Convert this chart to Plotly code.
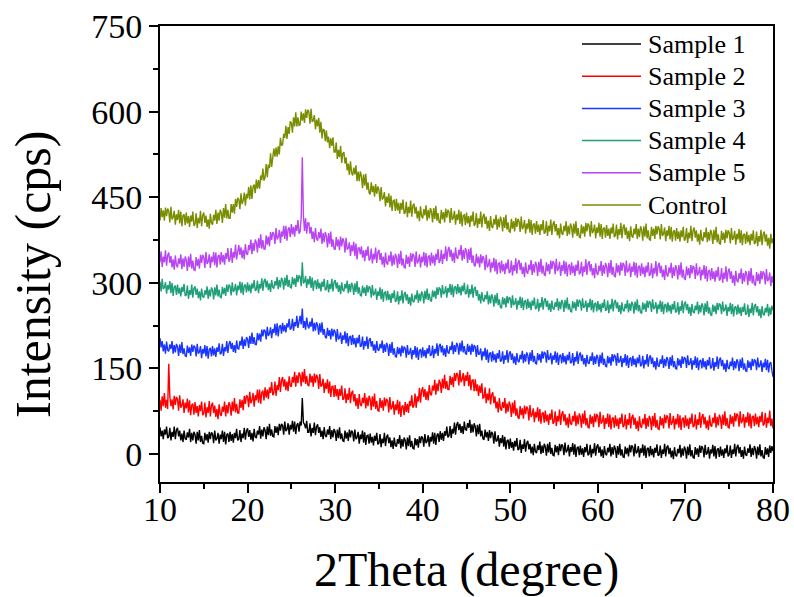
import plotly.graph_objects as go

# Diffraction angle grid (degrees 2-theta), 0.125 degree step from 10 to 80
two_theta = [10 + 0.125 * i for i in range(561)]

sample_1 = [
    47, 31, 41, 26, 43, 34, 48, 28, 30, 46, 24, 39, 30, 48, 26, 42,
    46, 31, 41, 24, 36, 21, 41, 27, 25, 38, 29, 44, 21, 37, 24, 39,
    34, 18, 39, 24, 42, 21, 32, 19, 18, 37, 24, 35, 20, 39, 26, 38,
    35, 19, 41, 24, 27, 37, 18, 34, 26, 41, 21, 39, 17, 34, 36, 21,
    39, 23, 35, 20, 37, 28, 44, 24, 26, 42, 21, 36, 28, 46, 25, 41,
    45, 30, 42, 25, 37, 22, 44, 30, 28, 41, 34, 49, 27, 43, 31, 47,
    42, 26, 48, 33, 53, 32, 43, 31, 30, 49, 37, 48, 33, 53, 41, 53,
    50, 34, 57, 40, 43, 54, 34, 51, 43, 58, 39, 57, 35, 51, 54, 39,
    57, 50, 98, 55, 52, 45, 58, 38, 38, 54, 31, 46, 37, 55, 33, 48,
    52, 37, 47, 30, 41, 26, 47, 32, 30, 43, 34, 49, 26, 42, 29, 44,
    39, 23, 43, 28, 47, 26, 36, 23, 22, 41, 27, 38, 23, 43, 29, 41,
    38, 22, 43, 26, 29, 39, 18, 34, 26, 41, 20, 38, 16, 32, 33, 18,
    36, 20, 30, 15, 32, 23, 37, 17, 19, 35, 12, 27, 19, 37, 14, 30,
    34, 19, 29, 12, 24, 9, 29, 15, 13, 26, 18, 33, 10, 26, 13, 29,
    24, 8, 29, 14, 33, 12, 23, 10, 9, 28, 15, 26, 11, 31, 19, 31,
    28, 13, 35, 19, 22, 33, 13, 30, 22, 38, 18, 37, 16, 33, 36, 21,
    40, 25, 37, 23, 40, 32, 48, 29, 32, 49, 28, 44, 36, 55, 34, 51,
    56, 42, 53, 37, 49, 35, 57, 43, 42, 54, 46, 60, 37, 52, 38, 54,
    48, 31, 51, 35, 53, 31, 41, 27, 25, 43, 29, 39, 23, 42, 28, 39,
    35, 18, 40, 22, 24, 33, 13, 28, 19, 33, 13, 30, 8, 23, 25, 9,
    27, 11, 21, 6, 23, 13, 28, 7, 9, 25, 2, 17, 9, 26, 4, 19,
    23, 8, 18, 1, 13, -2, 18, 4, 2, 15, 7, 22, 0, 15, 2, 18,
    13, -3, 18, 3, 21, 0, 11, -2, -3, 16, 3, 14, -2, 18, 5, 17,
    14, -2, 20, 3, 6, 16, -4, 12, 4, 19, -1, 17, -5, 11, 13, -2,
    15, -1, 10, -5, 12, 3, 18, -2, 0, 16, -6, 9, 1, 19, -3, 13,
    17, 2, 13, -4, 8, -7, 14, 0, -2, 11, 3, 18, -4, 12, -1, 15,
    9, -7, 14, -1, 18, -3, 8, -5, -6, 13, 0, 11, -4, 16, 3, 15,
    12, -4, 18, 1, 4, 14, -6, 10, 2, 17, -3, 15, -7, 9, 11, -4,
    14, -2, 9, -6, 11, 2, 17, -3, -1, 15, -7, 8, 0, 18, -4, 12,
    15, 0, 11, -6, 6, -9, 12, -2, -4, 9, 1, 16, -6, 10, -3, 13,
    8, -8, 13, -2, 17, -4, 7, -6, -7, 12, -1, 10, -5, 15, 2, 14,
    10, -6, 16, -1, 2, 12, -8, 8, 1, 16, -4, 14, -8, 8, 10, -5,
    13, -3, 8, -7, 10, 1, 16, -4, -1, 15, -7, 8, 0, 18, -4, 12,
    16, 1, 12, -5, 7, -8, 13, -1, -3, 10, 2, 17, -5, 11, -2, 14,
    8, -8, 13, -2, 17, -4, 7, -6, -7, 12, -1, 10, -5, 15, 2, 14,
    5,
]

sample_2 = [
    95, 76, 101, 84, 107, 81, 95, 79, 158, 100, 84, 96, 78, 102, 86, 100,
    96, 76, 103, 81, 85, 96, 72, 90, 80, 97, 73, 94, 68, 86, 88, 69,
    91, 72, 84, 66, 86, 75, 92, 68, 71, 90, 64, 82, 72, 93, 66, 85,
    90, 72, 85, 65, 79, 61, 87, 70, 67, 83, 74, 92, 66, 86, 71, 91,
    85, 67, 92, 75, 98, 73, 88, 72, 72, 96, 81, 95, 77, 102, 88, 103,
    100, 82, 109, 89, 94, 107, 83, 103, 94, 113, 90, 113, 88, 108, 111, 94,
    117, 99, 113, 96, 117, 107, 126, 103, 107, 127, 102, 121, 112, 135, 109, 129,
    135, 118, 131, 112, 127, 110, 136, 120, 118, 135, 125, 144, 118, 138, 124, 143,
    138, 119, 144, 126, 149, 123, 137, 121, 119, 141, 125, 137, 118, 141, 125, 139,
    134, 114, 140, 118, 121, 132, 107, 125, 114, 131, 106, 127, 100, 118, 119, 100,
    121, 101, 114, 95, 114, 102, 120, 95, 97, 115, 89, 106, 95, 116, 89, 107,
    111, 92, 105, 84, 98, 79, 105, 87, 84, 99, 89, 107, 80, 99, 84, 102,
    96, 77, 101, 83, 106, 79, 93, 76, 75, 98, 81, 94, 76, 99, 84, 97,
    93, 73, 100, 78, 82, 93, 69, 87, 77, 95, 70, 92, 65, 83, 85, 68,
    91, 74, 88, 72, 93, 84, 103, 81, 85, 106, 81, 101, 92, 116, 90, 111,
    117, 100, 114, 95, 110, 94, 121, 105, 103, 120, 111, 130, 104, 124, 110, 130,
    125, 107, 132, 115, 139, 114, 128, 113, 113, 137, 121, 135, 117, 142, 128, 142,
    139, 120, 147, 126, 131, 142, 119, 138, 128, 144, 119, 139, 112, 129, 130, 110,
    131, 110, 122, 102, 120, 107, 124, 98, 99, 117, 89, 106, 94, 115, 87, 104,
    108, 89, 101, 80, 92, 73, 98, 80, 76, 91, 81, 98, 71, 89, 74, 92,
    85, 65, 90, 71, 94, 67, 80, 64, 62, 84, 68, 80, 62, 85, 70, 83,
    79, 59, 86, 65, 69, 80, 56, 74, 64, 82, 57, 79, 53, 71, 73, 55,
    76, 57, 69, 51, 71, 60, 78, 53, 56, 75, 49, 67, 57, 78, 51, 70,
    75, 57, 70, 50, 64, 46, 71, 54, 51, 67, 57, 75, 49, 68, 52, 71,
    65, 46, 71, 53, 76, 50, 63, 47, 46, 69, 53, 66, 47, 71, 56, 70,
    66, 47, 74, 53, 57, 68, 44, 63, 53, 71, 47, 69, 43, 62, 64, 46,
    68, 49, 62, 44, 64, 53, 71, 47, 50, 69, 43, 61, 51, 72, 45, 64,
    69, 51, 64, 44, 58, 40, 66, 49, 46, 62, 52, 70, 44, 63, 48, 67,
    61, 42, 67, 49, 72, 46, 60, 44, 43, 66, 50, 63, 45, 69, 54, 68,
    64, 45, 72, 51, 55, 67, 43, 62, 52, 70, 46, 68, 42, 61, 64, 46,
    68, 49, 62, 44, 64, 53, 71, 47, 50, 69, 43, 61, 51, 73, 46, 65,
    70, 52, 65, 45, 59, 42, 68, 51, 48, 64, 54, 72, 46, 65, 50, 69,
    63, 44, 69, 51, 75, 49, 63, 47, 46, 69, 53, 66, 48, 72, 57, 71,
    67, 48, 75, 54, 58, 70, 46, 65, 55, 73, 49, 71, 45, 65, 67, 49,
    71, 52, 65, 47, 67, 56, 74, 50, 53, 72, 46, 64, 54, 76, 49, 62,
    45,
]

sample_3 = [
    203, 187, 198, 180, 192, 176, 197, 182, 180, 192, 184, 198, 176, 191, 178, 193,
    188, 172, 192, 177, 196, 175, 185, 172, 171, 190, 177, 187, 172, 192, 179, 190,
    187, 171, 193, 176, 179, 189, 168, 184, 176, 191, 171, 189, 167, 183, 186, 171,
    189, 173, 185, 170, 187, 179, 194, 175, 177, 193, 172, 187, 180, 198, 177, 193,
    198, 184, 195, 179, 191, 177, 199, 185, 184, 198, 190, 206, 184, 201, 189, 205,
    201, 186, 207, 193, 213, 193, 205, 192, 192, 212, 199, 211, 197, 218, 206, 218,
    216, 201, 223, 207, 211, 222, 203, 219, 212, 228, 208, 229, 206, 223, 226, 211,
    230, 215, 226, 213, 229, 222, 237, 218, 221, 237, 216, 231, 224, 242, 221, 237,
    242, 227, 255, 221, 233, 218, 239, 225, 220, 232, 223, 238, 215, 230, 216, 231,
    226, 209, 229, 213, 231, 209, 219, 205, 203, 221, 207, 217, 201, 220, 206, 218,
    214, 197, 219, 201, 204, 213, 193, 208, 200, 215, 194, 212, 189, 205, 207, 191,
    209, 192, 203, 187, 204, 194, 209, 188, 190, 206, 183, 198, 189, 206, 184, 200,
    203, 188, 198, 181, 192, 177, 198, 183, 181, 193, 185, 199, 177, 192, 179, 195,
    189, 172, 193, 177, 196, 174, 185, 171, 170, 188, 175, 186, 171, 190, 177, 188,
    185, 169, 191, 174, 177, 186, 166, 182, 174, 189, 169, 187, 165, 181, 184, 169,
    187, 171, 182, 168, 185, 176, 191, 172, 174, 190, 168, 184, 176, 194, 172, 189,
    193, 178, 190, 173, 185, 170, 191, 178, 176, 189, 182, 197, 175, 191, 179, 195,
    190, 174, 195, 180, 199, 178, 189, 176, 175, 193, 179, 190, 174, 193, 179, 191,
    187, 170, 191, 174, 176, 185, 164, 180, 171, 186, 165, 183, 160, 176, 178, 162,
    180, 164, 175, 160, 177, 167, 182, 162, 164, 180, 158, 173, 165, 182, 160, 176,
    180, 165, 176, 159, 171, 156, 177, 163, 161, 174, 166, 181, 159, 175, 162, 178,
    173, 157, 178, 163, 182, 161, 172, 159, 158, 177, 164, 175, 160, 180, 167, 179,
    176, 160, 182, 165, 168, 177, 157, 173, 165, 180, 160, 178, 156, 172, 174, 159,
    177, 161, 172, 157, 174, 164, 179, 159, 161, 177, 155, 170, 162, 180, 158, 174,
    178, 163, 174, 157, 168, 153, 174, 160, 158, 171, 163, 178, 156, 171, 158, 174,
    169, 153, 174, 159, 178, 156, 167, 154, 153, 172, 159, 170, 155, 175, 162, 174,
    171, 155, 177, 160, 163, 172, 152, 168, 160, 175, 155, 173, 151, 167, 169, 154,
    172, 156, 167, 152, 169, 159, 174, 154, 156, 172, 150, 165, 157, 175, 153, 169,
    173, 158, 169, 152, 163, 148, 169, 155, 153, 166, 158, 173, 151, 167, 154, 170,
    165, 149, 170, 155, 173, 152, 163, 150, 149, 168, 155, 166, 151, 171, 158, 170,
    167, 151, 173, 156, 159, 168, 148, 164, 156, 171, 151, 169, 147, 163, 165, 150,
    168, 152, 163, 148, 165, 155, 170, 150, 152, 168, 146, 161, 153, 171, 149, 165,
    169, 154, 165, 148, 159, 144, 165, 151, 149, 162, 154, 169, 147, 163, 150, 166,
    161, 145, 166, 151, 169, 148, 159, 146, 145, 164, 151, 162, 147, 167, 154, 166,
    163, 147, 169, 152, 155, 164, 144, 160, 152, 167, 147, 165, 143, 159, 161, 146,
    135,
]

sample_4 = [
    302, 285, 307, 289, 292, 301, 281, 296, 288, 303, 282, 300, 277, 293, 295, 279,
    297, 281, 291, 276, 293, 284, 298, 277, 279, 295, 272, 287, 279, 297, 274, 290,
    294, 279, 290, 273, 285, 269, 290, 276, 274, 287, 279, 294, 272, 288, 276, 292,
    287, 271, 292, 278, 297, 276, 288, 275, 274, 293, 280, 291, 277, 297, 284, 297,
    294, 278, 301, 284, 288, 298, 278, 295, 287, 302, 282, 301, 279, 295, 297, 283,
    301, 285, 297, 282, 299, 290, 305, 286, 288, 304, 282, 298, 290, 308, 286, 303,
    307, 292, 304, 287, 299, 284, 305, 292, 290, 303, 295, 310, 289, 305, 292, 309,
    304, 288, 309, 295, 314, 293, 305, 292, 291, 310, 297, 308, 293, 314, 301, 313,
    310, 294, 336, 299, 302, 312, 291, 307, 297, 312, 291, 309, 286, 302, 304, 289,
    306, 290, 300, 285, 302, 293, 307, 287, 289, 305, 283, 298, 289, 307, 285, 301,
    305, 290, 301, 284, 296, 280, 301, 287, 285, 298, 290, 304, 282, 298, 284, 300,
    295, 279, 299, 284, 303, 281, 292, 278, 277, 295, 282, 292, 277, 296, 283, 294,
    291, 274, 296, 278, 281, 290, 270, 285, 277, 292, 271, 289, 267, 283, 284, 269,
    286, 270, 280, 265, 282, 273, 287, 267, 269, 285, 262, 277, 269, 287, 264, 280,
    284, 269, 280, 263, 275, 260, 281, 268, 266, 279, 271, 287, 265, 281, 268, 285,
    280, 264, 286, 271, 290, 270, 281, 269, 268, 287, 275, 286, 272, 292, 279, 292,
    289, 274, 296, 280, 283, 294, 274, 291, 283, 298, 279, 297, 275, 292, 294, 280,
    298, 282, 293, 278, 295, 285, 300, 280, 282, 297, 274, 289, 280, 297, 274, 290,
    293, 277, 287, 269, 280, 264, 284, 270, 267, 279, 271, 285, 262, 278, 264, 280,
    274, 258, 279, 264, 282, 261, 271, 257, 256, 275, 262, 273, 257, 277, 264, 275,
    272, 256, 278, 261, 264, 273, 253, 269, 261, 276, 256, 274, 252, 268, 269, 254,
    272, 256, 267, 252, 269, 260, 274, 254, 256, 272, 250, 265, 257, 275, 253, 269,
    273, 258, 269, 252, 264, 249, 269, 255, 253, 266, 258, 273, 251, 267, 254, 270,
    265, 249, 270, 255, 274, 253, 263, 250, 249, 268, 255, 266, 251, 271, 258, 270,
    267, 251, 273, 256, 259, 269, 249, 265, 257, 272, 252, 270, 248, 263, 265, 250,
    268, 252, 263, 248, 265, 256, 271, 251, 253, 269, 247, 262, 254, 272, 250, 266,
    270, 255, 266, 249, 261, 245, 266, 252, 250, 263, 255, 270, 248, 264, 251, 267,
    262, 246, 267, 252, 271, 250, 261, 248, 247, 266, 253, 264, 249, 269, 256, 268,
    265, 249, 271, 254, 257, 266, 246, 262, 254, 269, 249, 267, 245, 261, 263, 248,
    266, 250, 261, 246, 263, 253, 268, 248, 250, 266, 244, 259, 251, 269, 247, 263,
    267, 252, 263, 246, 258, 242, 263, 249, 247, 260, 252, 267, 245, 261, 248, 264,
    259, 243, 264, 249, 268, 246, 257, 244, 243, 262, 249, 260, 245, 265, 252, 264,
    261, 245, 267, 250, 253, 262, 242, 258, 250, 265, 245, 263, 241, 257, 259, 244,
    262, 246, 257, 242, 258, 249, 264, 244, 246, 262, 240, 255, 247, 265, 243, 259,
    263, 248, 259, 242, 254, 238, 259, 245, 243, 256, 248, 263, 241, 257, 244, 260,
    252,
]

sample_5 = [
    336, 355, 328, 346, 336, 357, 330, 348, 353, 335, 347, 327, 341, 323, 348, 331,
    327, 343, 333, 350, 324, 343, 328, 346, 340, 321, 346, 328, 351, 325, 339, 323,
    322, 345, 329, 342, 325, 349, 335, 349, 345, 326, 354, 333, 337, 350, 326, 346,
    336, 354, 331, 353, 327, 347, 349, 332, 354, 336, 349, 332, 352, 342, 361, 337,
    341, 361, 335, 354, 344, 367, 341, 360, 366, 349, 362, 343, 358, 341, 368, 351,
    349, 366, 357, 376, 350, 370, 356, 376, 371, 353, 378, 361, 385, 360, 375, 359,
    359, 383, 367, 381, 364, 389, 375, 389, 386, 368, 396, 376, 380, 393, 370, 390,
    381, 400, 377, 400, 374, 394, 397, 380, 403, 385, 398, 381, 401, 391, 410, 386,
    390, 415, 520, 418, 391, 413, 386, 405, 405, 386, 398, 377, 390, 371, 396, 378,
    374, 389, 378, 395, 368, 387, 371, 389, 382, 362, 387, 368, 390, 363, 376, 360,
    358, 380, 364, 376, 357, 381, 364, 378, 373, 353, 379, 358, 361, 371, 347, 366,
    355, 372, 347, 369, 341, 361, 361, 350, 364, 344, 357, 338, 358, 347, 364, 339,
    342, 360, 334, 351, 341, 362, 335, 353, 358, 340, 352, 332, 346, 327, 353, 335,
    332, 348, 337, 355, 329, 348, 332, 351, 345, 326, 351, 333, 356, 330, 343, 327,
    326, 349, 333, 346, 328, 352, 337, 351, 347, 328, 355, 334, 338, 350, 327, 346,
    336, 354, 330, 352, 327, 346, 348, 330, 353, 334, 348, 330, 351, 340, 359, 335,
    339, 358, 333, 351, 342, 364, 338, 357, 363, 345, 358, 338, 353, 335, 362, 345,
    342, 358, 348, 366, 339, 358, 342, 361, 355, 335, 359, 340, 362, 335, 348, 331,
    329, 351, 334, 346, 327, 350, 334, 347, 342, 322, 349, 327, 331, 342, 318, 336,
    326, 344, 320, 341, 315, 334, 335, 317, 339, 320, 333, 315, 335, 324, 341, 317,
    320, 339, 313, 331, 321, 343, 316, 335, 340, 322, 335, 315, 328, 310, 336, 319,
    316, 332, 322, 340, 314, 333, 318, 337, 331, 312, 337, 319, 342, 316, 330, 314,
    313, 336, 320, 333, 315, 339, 324, 338, 334, 315, 342, 321, 325, 337, 312, 331,
    321, 339, 315, 337, 311, 330, 332, 314, 336, 317, 330, 312, 332, 321, 339, 315,
    318, 337, 311, 329, 319, 341, 314, 333, 338, 320, 333, 313, 326, 308, 334, 317,
    314, 330, 320, 338, 312, 331, 316, 335, 329, 310, 335, 317, 340, 314, 328, 312,
    311, 334, 318, 331, 313, 336, 321, 335, 331, 312, 339, 318, 322, 334, 310, 329,
    319, 337, 313, 335, 309, 328, 330, 312, 334, 315, 328, 310, 330, 318, 336, 312,
    315, 334, 308, 326, 316, 338, 311, 330, 335, 317, 330, 310, 323, 305, 331, 314,
    311, 327, 317, 335, 308, 327, 312, 331, 325, 306, 331, 313, 336, 309, 323, 307,
    306, 329, 313, 326, 308, 331, 316, 330, 326, 307, 334, 313, 317, 328, 304, 323,
    313, 331, 307, 329, 302, 321, 322, 304, 326, 307, 320, 302, 322, 310, 328, 304,
    307, 326, 300, 318, 307, 329, 302, 320, 325, 307, 320, 300, 313, 295, 321, 304,
    301, 317, 307, 325, 298, 317, 302, 321, 315, 296, 321, 303, 326, 299, 313, 297,
    296, 319, 303, 316, 298, 321, 306, 320, 316, 297, 324, 303, 306, 318, 294, 312,
    300,
]

control = [
    409, 431, 415, 427, 409, 432, 417, 430, 426, 406, 433, 411, 415, 426, 402, 420,
    410, 428, 404, 425, 399, 418, 420, 401, 423, 404, 417, 398, 418, 407, 425, 400,
    403, 422, 396, 414, 404, 426, 399, 418, 423, 405, 418, 398, 411, 395, 421, 405,
    402, 419, 409, 428, 403, 423, 409, 428, 423, 405, 431, 414, 438, 413, 428, 413,
    413, 438, 423, 438, 421, 447, 433, 449, 446, 429, 457, 438, 444, 458, 435, 456,
    448, 468, 446, 471, 447, 468, 472, 457, 481, 465, 480, 465, 488, 480, 500, 479,
    485, 508, 485, 507, 501, 527, 503, 526, 535, 521, 537, 521, 539, 525, 554, 541,
    542, 561, 554, 575, 552, 573, 561, 583, 580, 563, 590, 574, 599, 574, 590, 576,
    577, 600, 584, 597, 580, 604, 589, 603, 600, 579, 605, 582, 584, 594, 569, 586,
    574, 589, 563, 582, 553, 569, 568, 548, 567, 546, 556, 536, 553, 540, 555, 529,
    529, 546, 517, 533, 520, 540, 510, 527, 529, 509, 520, 497, 509, 489, 513, 493,
    488, 502, 490, 506, 478, 495, 478, 495, 487, 466, 490, 470, 491, 463, 476, 458,
    455, 476, 459, 470, 451, 473, 456, 469, 463, 443, 468, 446, 449, 459, 434, 451,
    440, 457, 432, 453, 426, 444, 445, 426, 447, 427, 440, 421, 440, 428, 446, 421,
    423, 442, 415, 433, 422, 444, 416, 435, 439, 421, 433, 413, 426, 408, 434, 417,
    413, 429, 418, 436, 409, 428, 413, 431, 425, 406, 431, 412, 435, 409, 422, 406,
    405, 428, 411, 424, 406, 430, 414, 428, 424, 405, 431, 410, 414, 426, 402, 420,
    410, 428, 403, 425, 399, 418, 419, 401, 423, 404, 417, 398, 418, 407, 425, 400,
    403, 422, 396, 413, 403, 425, 397, 416, 421, 403, 416, 395, 409, 391, 417, 399,
    396, 412, 402, 419, 393, 412, 397, 416, 409, 390, 415, 396, 419, 393, 406, 390,
    389, 412, 395, 408, 390, 414, 398, 412, 408, 389, 416, 394, 398, 410, 386, 404,
    394, 412, 388, 410, 384, 402, 404, 386, 408, 389, 402, 384, 403, 392, 410, 386,
    389, 408, 382, 400, 390, 411, 384, 403, 408, 390, 403, 383, 396, 378, 404, 387,
    384, 400, 390, 408, 382, 400, 385, 404, 398, 379, 404, 386, 408, 382, 396, 380,
    379, 402, 386, 399, 381, 405, 390, 404, 400, 381, 408, 387, 391, 402, 378, 397,
    387, 405, 381, 403, 377, 395, 397, 379, 401, 382, 395, 377, 397, 386, 404, 380,
    383, 402, 376, 394, 384, 405, 378, 397, 402, 384, 397, 377, 391, 373, 399, 382,
    379, 395, 385, 403, 377, 395, 380, 399, 393, 374, 399, 381, 404, 378, 392, 376,
    375, 398, 382, 395, 377, 400, 385, 399, 395, 376, 403, 382, 386, 397, 373, 392,
    382, 400, 376, 398, 372, 390, 392, 374, 396, 377, 390, 372, 392, 380, 398, 374,
    377, 396, 370, 388, 378, 400, 373, 392, 397, 379, 392, 372, 386, 367, 393, 376,
    373, 389, 379, 397, 371, 389, 374, 393, 387, 368, 393, 375, 398, 371, 385, 369,
    368, 391, 375, 388, 370, 393, 378, 392, 388, 369, 396, 375, 379, 391, 367, 386,
    376, 394, 370, 392, 366, 384, 386, 368, 390, 371, 384, 366, 386, 374, 392, 368,
    371, 390, 364, 382, 372, 393, 366, 385, 390, 372, 385, 365, 379, 360, 386, 369,
    378,
]

series_names = ["Sample 1", "Sample 2", "Sample 3", "Sample 4", "Sample 5", "Control"]
series_values = [sample_1, sample_2, sample_3, sample_4, sample_5, control]
series_colors = ["#000000", "#ff0000", "#1a35ff", "#1f9e78", "#b844f2", "#7a8c00"]

x_ticks = [10, 20, 30, 40, 50, 60, 70, 80]
y_ticks = [0, 150, 300, 450, 600, 750]

W, H = 794, 597
ML, MR, MT, MB = 160, 21, 26, 115
SERIF = "Liberation Serif, Times New Roman, serif"


def paper_x(px):
    return (px - ML) / (W - ML - MR)


def paper_y(py):
    return (H - MB - py) / (H - MT - MB)


fig = go.Figure()
for name, ys, col in zip(series_names, series_values, series_colors):
    fig.add_trace(go.Scatter(
        x=two_theta[:len(ys)], y=ys, mode="lines", name=name,
        line=dict(color=col, width=1.4), showlegend=False,
    ))

# Hand-placed legend: a short line sample and a label per series
shapes = []
annotations = []
for i, (name, col) in enumerate(zip(series_names, series_colors)):
    yy = 44 + 32.2 * i
    shapes.append(dict(
        type="line", xref="paper", yref="paper",
        x0=paper_x(582), x1=paper_x(641), y0=paper_y(yy), y1=paper_y(yy),
        line=dict(color=col, width=1.5),
    ))
    annotations.append(dict(
        text=name, xref="paper", yref="paper", x=paper_x(646), y=paper_y(yy),
        xanchor="left", yanchor="middle", showarrow=False,
        font=dict(family=SERIF, size=26, color="black"),
    ))

annotations.append(dict(
    text="2Theta (degree)", xref="paper", yref="paper",
    x=paper_x(466), y=paper_y(570), xanchor="center", yanchor="middle",
    showarrow=False, font=dict(family=SERIF, size=48, color="black"),
))
annotations.append(dict(
    text="Intensity (cps)", xref="paper", yref="paper", textangle=-90,
    x=paper_x(33), y=paper_y(275), xanchor="center", yanchor="middle",
    showarrow=False, font=dict(family=SERIF, size=50, color="black"),
))

axis_common = dict(
    showline=True, linewidth=2, linecolor="black", mirror=True,
    showgrid=False, zeroline=False, automargin=False,
    ticks="outside", ticklen=9, tickwidth=2, tickcolor="black",
    tickfont=dict(family=SERIF, size=34, color="black"),
)

fig.update_layout(
    width=W, height=H,
    margin=dict(l=ML, r=MR, t=MT, b=MB),
    paper_bgcolor="white", plot_bgcolor="white",
    shapes=shapes, annotations=annotations,
    xaxis=dict(
        range=[10, 80], tickvals=x_ticks, ticklabelstandoff=-13,
        minor=dict(ticks="outside", ticklen=5, tickwidth=2, tickcolor="black", dtick=5),
        **axis_common,
    ),
    yaxis=dict(
        range=[-49, 750], tickvals=y_ticks,
        minor=dict(ticks="outside", ticklen=5, tickwidth=2, tickcolor="black", dtick=75),
        **axis_common,
    ),
)

fig.write_html("out.html")
